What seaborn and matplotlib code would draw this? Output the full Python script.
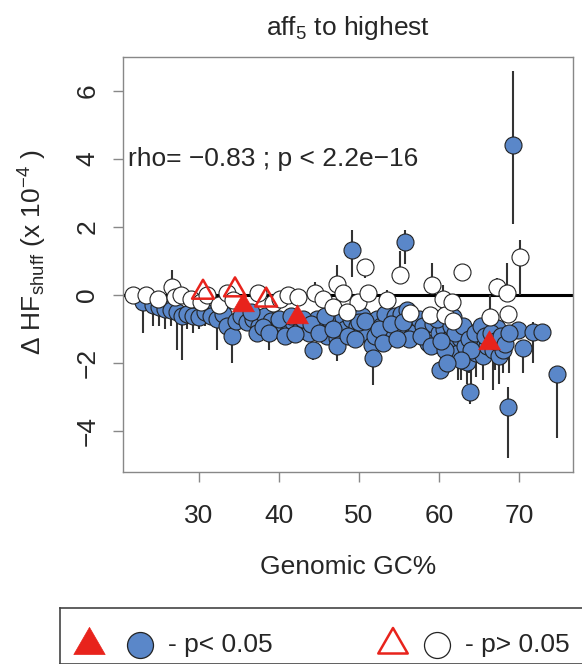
import numpy as np
import pandas as pd
import seaborn as sns
import matplotlib.pyplot as plt
from matplotlib.path import Path

# ===== data =====
# significant genomes (blue circles): GC%, value, lower / upper end of the bar
blue_gc = [23.0, 24.2, 25.0, 25.8, 26.5, 27.2, 27.9, 28.5, 29.2, 30.0,
           30.8, 31.5, 32.3, 33.0, 33.5, 34.1, 34.6, 35.2, 36.0, 36.8,
           37.5, 38.2, 39.0, 39.8, 40.5, 41.2, 41.8, 42.5, 43.2, 43.8,
           44.3, 44.8, 45.5, 46.0, 46.5, 47.2, 47.3, 48.0, 48.3, 49.0,
           49.1, 49.8, 50.4, 51.0, 51.6, 51.75, 52.2, 52.8, 53.3, 53.8,
           54.5, 55.0, 55.75, 55.3, 56.0, 56.6, 57.1, 57.5, 58.0, 58.6,
           59.3, 60.0, 60.1, 60.6, 61.3, 61.8, 62.4, 62.6, 63.2, 63.5,
           63.9, 64.2, 64.6, 65.0, 65.5, 66.0, 66.8, 67.25, 67.5, 68.0,
           68.6, 69.3, 69.9, 70.5, 71.75, 72.9, 74.75,
           56.3, 57.8, 59.0, 59.8, 60.8, 61.5, 62.0, 63.0, 63.8, 64.5,
           65.3, 65.8, 66.5, 67.0, 67.8, 68.3, 68.8, 64.0, 62.8, 61.0, 60.3,
           36.5, 37.2, 38.0, 38.8, 40.0, 40.8, 41.5, 42.0, 43.0, 44.0,
           45.0, 45.8, 46.8, 48.6, 49.5, 50.0, 50.8, 52.0, 52.5, 53.0,
           54.0, 54.8, 55.5]
blue_val = [-0.2, -0.3, -0.35, -0.4, -0.45, -0.5, -0.6, -0.55, -0.6, -0.65,
            -0.5, -0.6, -0.7, -0.55, -0.9, -1.2, -0.75, -0.6, -0.8, -0.7,
            -0.9, -0.6, -0.75, -1.0, -0.85, -1.0, -0.8, -1.05, -0.95, -1.1,
            -1.62, -0.7, -0.9, -1.2, -0.8, -1.25, -1.5, -0.65, -1.0, -0.7,
            1.32, -0.9, -0.6, -1.1, -1.47, -1.85, -0.7, -0.9, -0.55, -1.2,
            -0.6, -1.0, 1.56, -0.55, -0.45, -0.9, -1.09, -0.7, -0.9, -1.4,
            -0.85, -1.1, -2.2, -1.0, -1.3, -0.65, -1.7, -1.25, -1.5, -1.97,
            -2.85, -1.1, -1.7, -1.3, -1.8, -1.5, -1.6, -0.97, -1.8, -1.6,
            -3.3, 4.4, -1.03, -1.56, -1.09, -1.09, -2.32,
            -1.3, -1.2, -1.5, -0.7, -1.6, -0.9, -1.1, -0.9, -1.3, -1.1,
            -0.9, -1.2, -1.1, -1.35, -1.2, -1.45, -1.1, -1.6, -1.9, -2.0, -1.35,
            -0.5, -1.1, -0.95, -1.1, -0.7, -1.2, -0.6, -1.15, -0.7, -0.85,
            -1.1, -0.6, -1.0, -1.2, -1.3, -0.8, -0.75, -1.2, -1.0, -1.4,
            -0.85, -1.3, -0.8]
blue_lo = [-1.1, -0.9, -0.9, -1.0, -0.9, -1.6, -1.9, -1.0, -1.1, -1.0,
           -0.9, -0.6, -1.6, -0.55, -0.9, -2.0, -0.75, -0.6, -0.8, -1.2,
           -0.9, -0.6, -1.1, -1.0, -0.85, -1.4, -0.8, -1.05, -0.95, -1.1,
           -1.9, -0.7, -0.9, -1.2, -0.8, -1.25, -1.95, -0.65, -1.0, -0.7,
           0.53, -0.9, -0.6, -1.1, -1.47, -2.65, -0.7, -0.9, -0.55, -1.2,
           -0.6, -1.4, 0.9, -0.55, -0.45, -0.9, -1.09, -0.7, -0.9, -1.4,
           -0.85, -1.6, -2.45, -1.0, -1.8, -0.65, -2.5, -1.25, -2.2, -2.6,
           -3.2, -1.1, -2.4, -1.3, -2.5, -1.5, -2.8, -0.97, -2.6, -2.3,
           -4.8, 2.1, -1.03, -2.3, -2.0, -1.09, -4.2,
           -1.3, -1.2, -1.5, -0.7, -1.6, -0.9, -1.1, -0.9, -2.3, -1.1,
           -0.9, -2.0, -1.1, -2.2, -1.2, -1.45, -2.3, -2.6, -2.5, -2.0, -1.35,
           -0.5, -1.1, -0.95, -1.6, -0.7, -1.2, -0.6, -1.15, -0.7, -0.85,
           -1.1, -0.6, -1.0, -1.2, -1.3, -0.8, -0.75, -1.2, -1.0, -1.4,
           -0.85, -1.3, -0.8]
blue_hi = [-0.2, -0.3, -0.35, -0.4, -0.45, -0.5, -0.6, -0.55, -0.6, -0.65,
           -0.5, -0.6, -0.7, -0.55, -0.9, -1.2, -0.75, -0.6, -0.8, -0.7,
           -0.9, -0.6, -0.75, -1.0, -0.85, -1.0, -0.8, -1.05, -0.95, -1.1,
           -1.62, -0.7, -0.9, -1.2, -0.8, -1.25, -1.5, -0.65, -1.0, -0.7,
           1.9, -0.9, -0.6, -1.1, -1.47, -1.85, -0.7, -0.9, -0.55, -1.2,
           -0.6, -1.0, 1.9, -0.55, -0.45, -0.9, -1.09, -0.7, -0.9, -1.4,
           -0.85, -1.1, -2.2, -1.0, -1.3, -0.65, -1.7, -1.25, -1.5, -1.97,
           -2.85, -1.1, -1.7, -1.3, -1.8, -1.5, -1.6, -0.97, -1.8, -1.6,
           -2.7, 6.6, -1.03, -1.56, -0.8, -1.09, -2.32,
           -1.3, -1.2, -1.5, -0.7, -1.6, -0.9, -1.1, -0.9, -1.3, -1.1,
           -0.9, -1.2, -1.1, -1.35, -1.2, -1.45, -1.1, -1.6, -1.9, -2.0, -1.35,
           -0.5, -1.1, -0.95, -1.1, -0.7, -1.2, -0.6, -1.15, -0.7, -0.85,
           -1.1, -0.6, -1.0, -1.2, -1.3, -0.8, -0.75, -1.2, -1.0, -1.4,
           -0.85, -1.3, -0.8]

# non significant genomes (white circles)
white_gc = [21.75, 23.4, 24.9, 26.6, 27.0, 27.8, 29.0, 30.2, 31.0, 32.5,
            33.5, 34.2, 37.4, 39.25, 40.1, 41.1, 42.4, 44.5, 45.5, 47.25,
            48.0, 46.75, 49.9, 48.5, 50.75, 51.1, 53.5, 55.1, 56.4, 58.9,
            59.1, 60.5, 60.75, 61.75, 61.6, 62.9, 66.4, 67.25, 68.5, 68.6, 70.1]
white_val = [0.0, 0.0, -0.1, 0.25, -0.05, 0.0, -0.1, -0.2, 0.0, -0.3,
             0.05, -0.15, 0.06, -0.24, -0.1, 0.0, -0.05, 0.06, -0.1, 0.32,
             0.06, -0.35, -0.2, -0.5, 0.82, 0.06, -0.15, 0.6, -0.52, -0.58,
             0.3, -0.1, -0.58, -0.75, -0.2, 0.68, -0.64, 0.24, 0.06, -0.56, 1.12]
white_lo = [0.0, 0.0, -0.1, 0.25, -0.05, 0.0, -0.1, -0.2, 0.0, -0.3,
            0.05, -0.15, 0.06, -0.24, -0.1, 0.0, -0.05, 0.06, -0.1, 0.32,
            0.06, -0.35, -0.2, -0.5, 0.5, 0.06, -0.15, 0.6, -0.52, -0.58,
            0.3, -0.1, -0.58, -0.75, -0.2, 0.68, -0.64, 0.24, 0.06, -0.56, 0.0]
white_hi = [0.0, 0.0, -0.1, 0.75, -0.05, 0.0, -0.1, -0.2, 0.0, -0.3,
            0.05, -0.15, 0.06, -0.24, -0.1, 0.0, -0.05, 0.4, -0.1, 0.88,
            0.06, -0.35, -0.2, -0.5, 0.82, 0.25, 0.15, 1.3, -0.52, -0.58,
            0.94, 0.3, -0.58, -0.75, -0.2, 0.68, 0.0, 0.5, 0.94, -0.56, 1.62]

# triangles
tri_sig_gc = [35.5, 42.25, 66.25]
tri_sig_val = [-0.3, -0.65, -1.4]
tri_ns_gc = [30.5, 34.5, 38.4]
tri_ns_val = [0.08, 0.15, -0.15]

xticks = [30, 40, 50, 60, 70]
yticks = [-4, -2, 0, 2, 4, 6]

BLUE = "#5a87c9"
RED = "#e8231c"
FS = 19
# equilateral triangle like R's pch 17 / pch 2 (closed path)
TRI = Path([(0, 1), (-0.866, -0.5), (0.866, -0.5), (0, 1)],
           [Path.MOVETO, Path.LINETO, Path.LINETO, Path.CLOSEPOLY])

sns.set_theme(style="white")
plt.rcParams["font.family"] = ["Liberation Sans", "DejaVu Sans"]
plt.rcParams["mathtext.fontset"] = "custom"
plt.rcParams["mathtext.rm"] = "Liberation Sans"
plt.rcParams["mathtext.default"] = "regular"

blue_df = pd.DataFrame({"gc": blue_gc, "val": blue_val, "lo": blue_lo, "hi": blue_hi})
white_df = pd.DataFrame({"gc": white_gc, "val": white_val, "lo": white_lo, "hi": white_hi})

fig = plt.figure(figsize=(5.82, 6.64), dpi=100)
ax = fig.add_axes([123 / 582, 1 - 472 / 664, 450 / 582, 415 / 664])

ax.axhline(0, color="black", lw=2.2, zorder=1)

ax.vlines(blue_df.gc, blue_df.lo, blue_df.hi, color="#333333", lw=1.5, zorder=2)
ax.vlines(white_df.gc, white_df.lo, white_df.hi, color="#333333", lw=1.5, zorder=2)

sns.scatterplot(data=blue_df, x="gc", y="val", ax=ax, s=150, color=BLUE,
                edgecolor="#222222", linewidth=0.8, zorder=3, legend=False)
sns.scatterplot(data=white_df, x="gc", y="val", ax=ax, s=150, color="white",
                edgecolor="#222222", linewidth=0.8, zorder=4, legend=False)
sns.scatterplot(x=tri_sig_gc, y=tri_sig_val, ax=ax, marker=TRI, s=330, color=RED,
                edgecolor=RED, linewidth=0.5, zorder=5, legend=False)
sns.scatterplot(x=tri_ns_gc, y=tri_ns_val, ax=ax, marker=TRI, s=330, facecolor="none",
                edgecolor=RED, linewidth=1.8, zorder=5, legend=False)

ax.set_xlim(20.5, 76.75)
ax.set_ylim(-5.2, 7.0)
ax.set_xticks(xticks)
ax.set_yticks(yticks)
ax.set_yticklabels([str(t).replace("-", "\u2212") for t in yticks], rotation=90, va="center")
ax.tick_params(axis="both", direction="out", length=7, width=1, color="#888888",
               labelsize=FS, bottom=True, left=True)
ax.tick_params(axis="x", pad=16)
ax.tick_params(axis="y", pad=10)
for sp in ax.spines.values():
    sp.set_color("#888888")
    sp.set_linewidth(1)

ax.set_xlabel("Genomic GC%", fontsize=FS)
ax.xaxis.set_label_coords(0.5, -0.2)
ax.set_ylabel(r"$\Delta$ HF$_{shuff}$ (x 10$^{-4}$ )", fontsize=FS)
ax.yaxis.set_label_coords(-0.165, 0.53)
ax.set_title(r"aff$_5$ to highest", fontsize=FS, pad=15.5)
ax.text(21.1, 4.0, "rho= \u22120.83 ; p < 2.2e\u221216", fontsize=FS, va="center", ha="left")

# ===== legend box at the bottom =====
lax = fig.add_axes([60 / 582, 0, 1, 56 / 664])
lax.set_xlim(60, 642)
lax.set_ylim(664, 608)
lax.set_xticks([])
lax.set_yticks([])
for sp in lax.spines.values():
    sp.set_color("#444444")
    sp.set_linewidth(1.2)
lax.scatter([89], [645], marker=TRI, s=680, color=RED, edgecolor=RED, linewidth=0.5)
lax.scatter([140], [645], marker="o", s=350, color=BLUE, edgecolor="#222222", linewidth=0.9)
lax.text(168, 645, "- p< 0.05", fontsize=FS, va="center", ha="left")
lax.scatter([393], [645], marker=TRI, s=600, facecolor="none", edgecolor=RED, linewidth=1.8)
lax.scatter([437], [645], marker="o", s=350, color="white", edgecolor="#222222", linewidth=0.9)
lax.text(465, 645, "- p> 0.05", fontsize=FS, va="center", ha="left")

fig.savefig("out.png", dpi=100)
